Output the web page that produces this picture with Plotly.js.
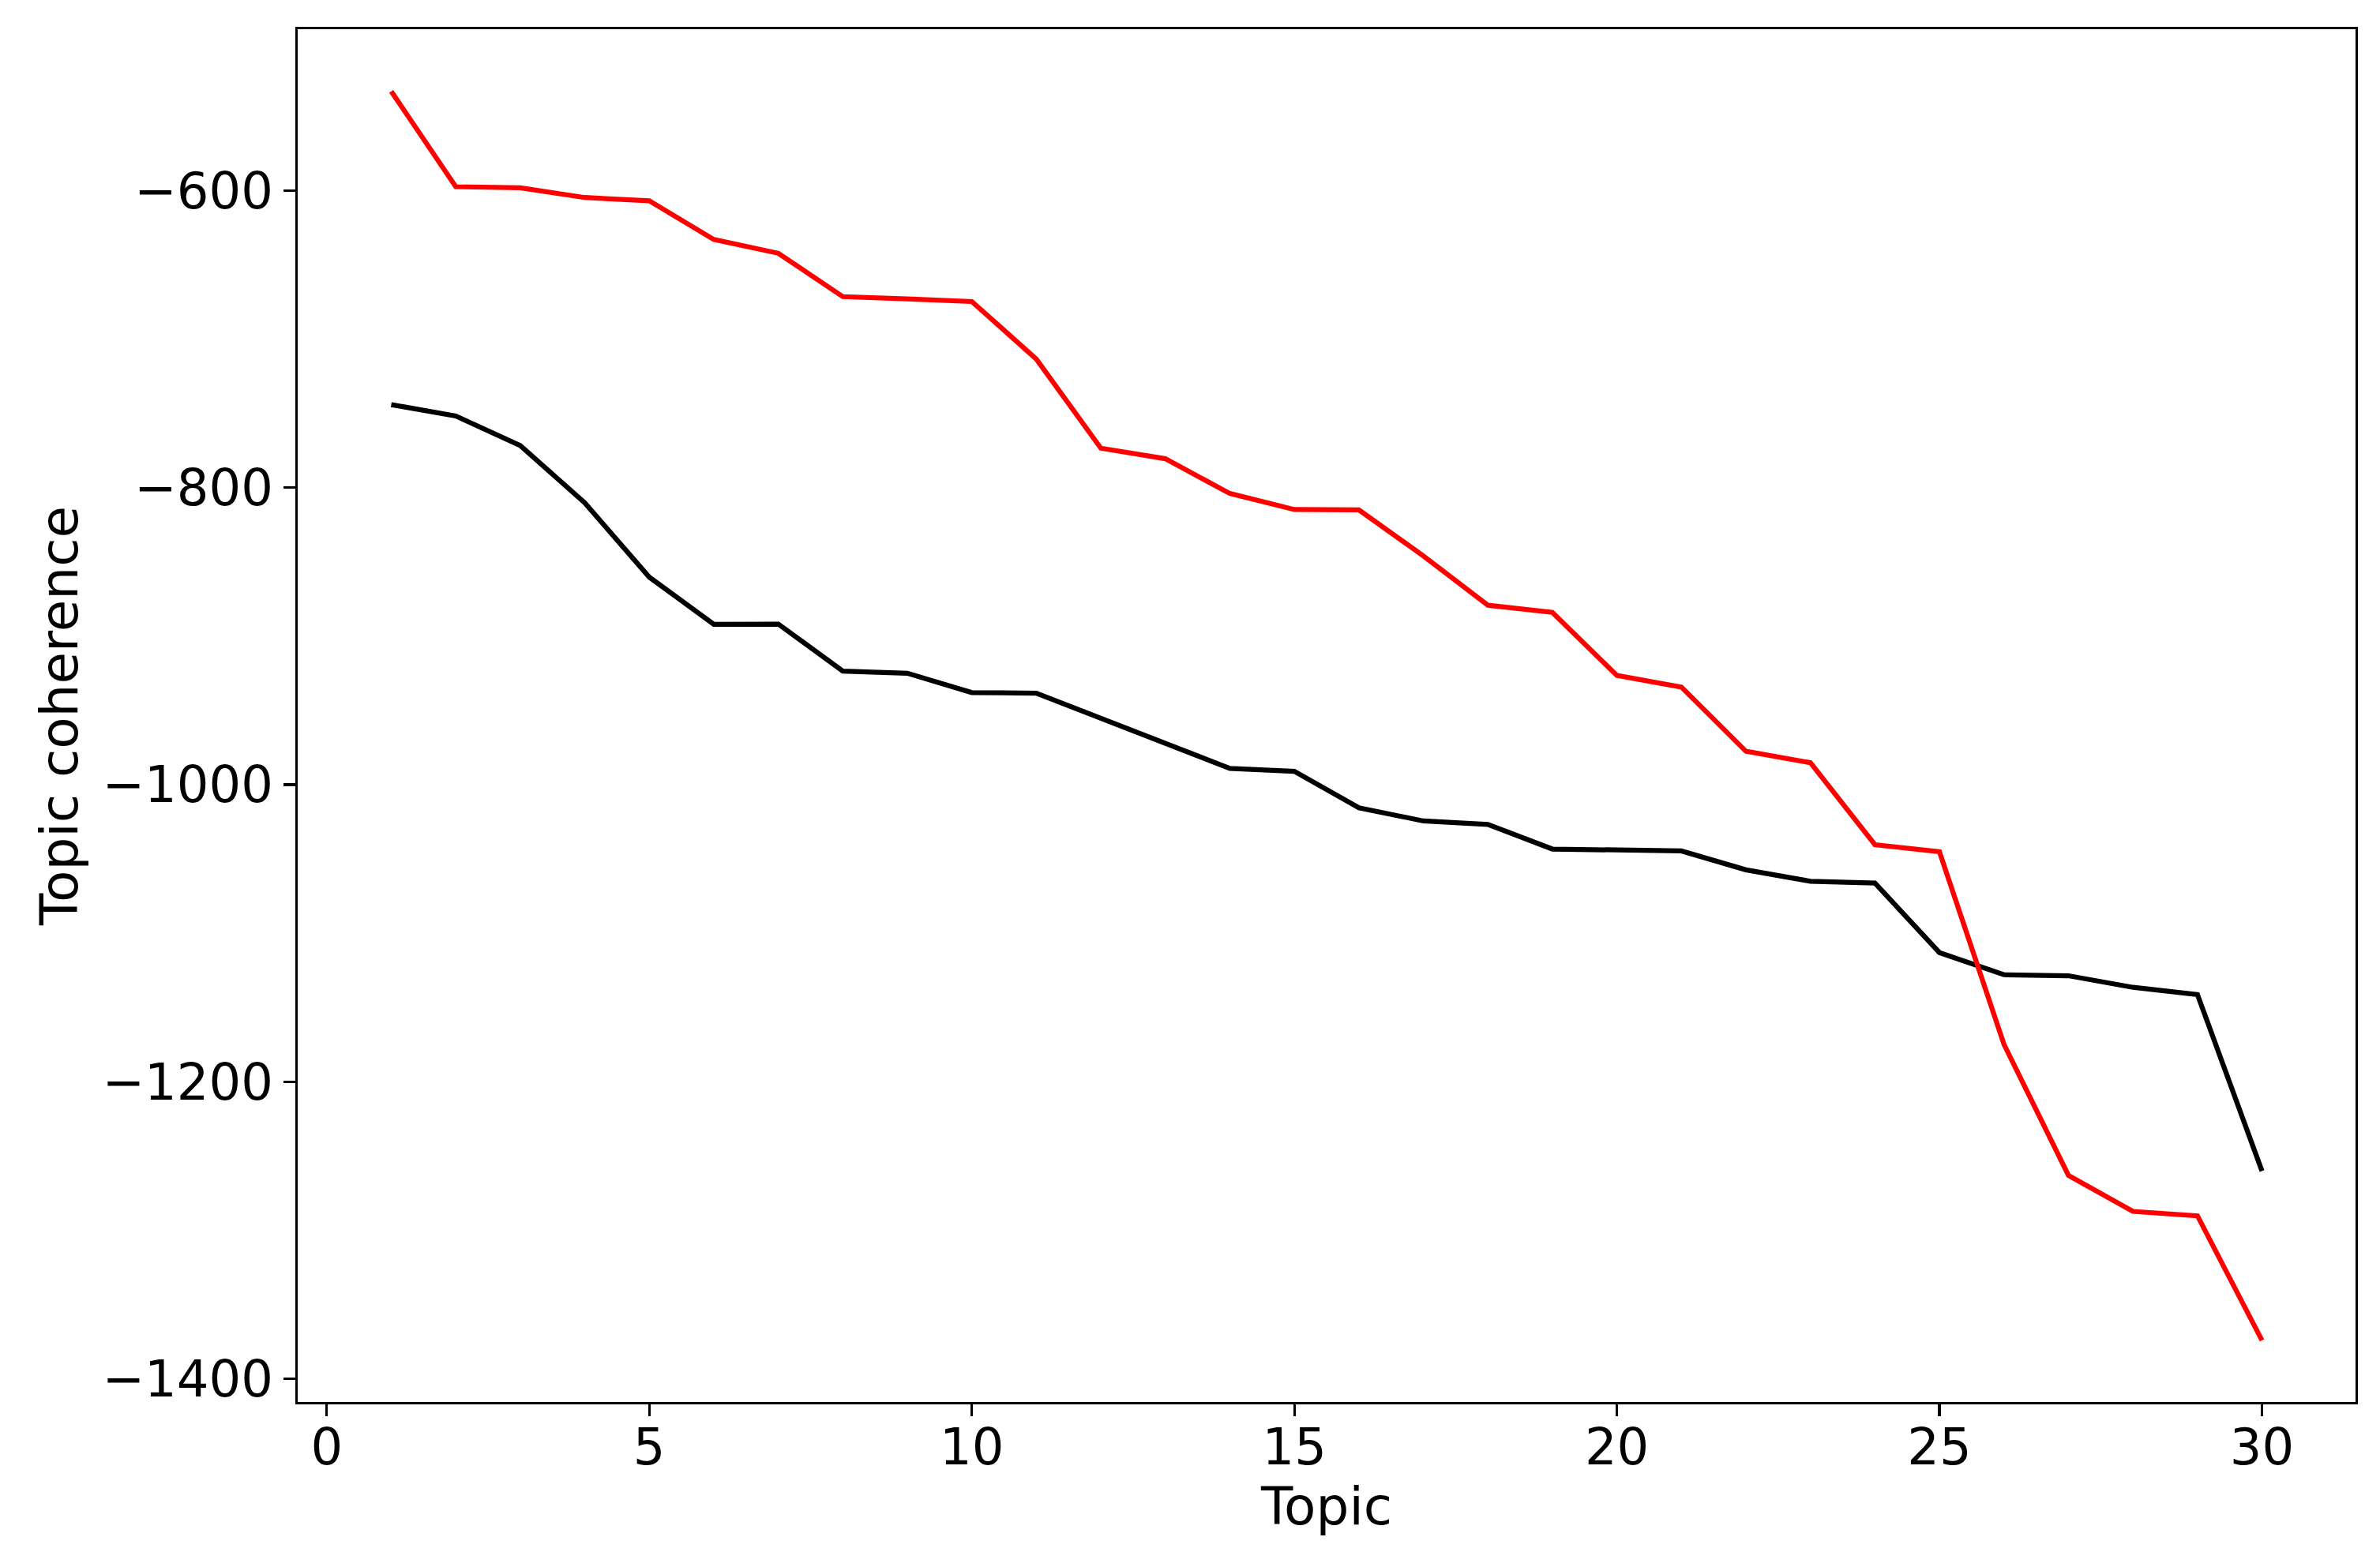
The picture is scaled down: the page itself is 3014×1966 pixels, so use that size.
<!DOCTYPE html>
<html>
<head>
<meta charset="utf-8">
<script src="https://cdn.plot.ly/plotly-3.0.1.min.js"></script>
<style>html,body{margin:0;padding:0;background:#fff;}#chart{width:3014px;height:1966px;}</style>
</head>
<body>
<div id="chart"></div>
<script>
const topics = [1,2,3,4,5,6,7,8,9,10,11,12,13,14,15,16,17,18,19,20,21,22,23,24,25,26,27,28,29,30];
const redSeries = [-533.3,-597.5,-598.2,-604.8,-607,-633,-642.3,-671.5,-673,-674.8,-713.5,-773.5,-780.6,-804,-814.8,-815,-846,-879.2,-884,-926.5,-934.3,-977.5,-985.2,-1040.4,-1045.1,-1174.7,-1263,-1287.2,-1290.2,-1374];
const blackSeries = [-744.2,-751.8,-771.7,-810.3,-860.3,-892,-891.9,-923.5,-925,-938,-938.4,-955.5,-971.9,-989,-991,-1015.5,-1024.4,-1026.7,-1043.3,-1044.1,-1044.6,-1057.3,-1065,-1066.2,-1113,-1127.9,-1128.6,-1136.4,-1141.3,-1260];
const xTicks = [0,5,10,15,20,25,30];
const yTicks = [-1400,-1200,-1000,-800,-600];

const font = {family: 'DejaVu Sans', size: 64, color: '#000'};
const titleFont = {family: 'DejaVu Sans', size: 66, color: '#000'};
const traces = [
  {x: topics, y: blackSeries, type: 'scatter', mode: 'lines', line: {color: 'black', width: 6.25}, showlegend: false},
  {x: topics, y: redSeries, type: 'scatter', mode: 'lines', line: {color: 'red', width: 6.25}, showlegend: false}
];
const layout = {
  width: 3014, height: 1966,
  margin: {l: 377, r: 31, t: 37, b: 190, pad: 0},
  paper_bgcolor: '#fff', plot_bgcolor: '#fff',
  font: font,
  xaxis: {
    range: [-0.45, 31.45], tickvals: xTicks, ticktext: xTicks.map(String),
    showgrid: false, zeroline: false, showline: true, mirror: true,
    linecolor: '#000', linewidth: 3.3, ticks: 'outside', ticklen: 15, tickwidth: 3.3, tickcolor: '#000',
    tickfont: font, ticklabelstandoff: -16,
    title: {text: 'Topic', font: titleFont, standoff: 12}
  },
  yaxis: {
    range: [-1415.5, -491.5], tickvals: yTicks,
    showgrid: false, zeroline: false, showline: true, mirror: true,
    linecolor: '#000', linewidth: 3.3, ticks: 'outside', ticklen: 15, tickwidth: 3.3, tickcolor: '#000',
    tickfont: font,
    title: {text: 'Topic coherence', font: titleFont, standoff: 10}
  }
};
Plotly.newPlot('chart', traces, layout, {staticPlot: true, displayModeBar: false});
</script>
</body>
</html>
